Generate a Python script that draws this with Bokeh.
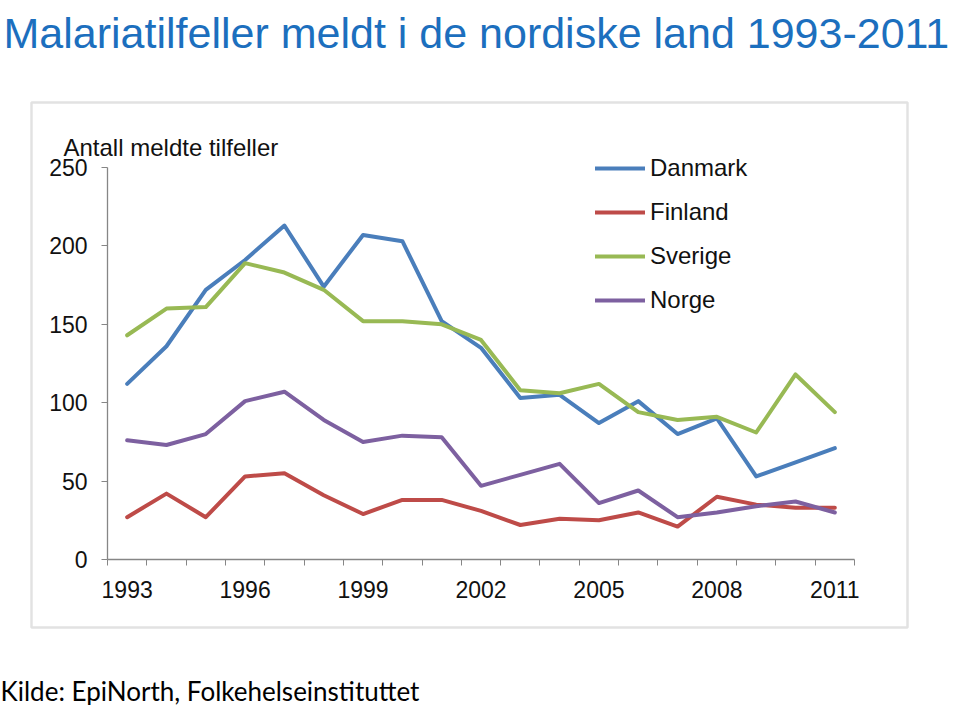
from bokeh.plotting import figure
from bokeh.models import Label, BoxAnnotation, Legend, LegendItem, FixedTicker, ColumnDataSource, Range1d
from bokeh.embed import file_html
from bokeh.resources import INLINE

years = list(range(1993, 2012))
label_years = [1993, 1996, 1999, 2002, 2005, 2008, 2011]
y_ticks = [0, 50, 100, 150, 200, 250]

danmark = [112, 136, 172, 191, 213, 174, 207, 203, 152, 135, 103, 105, 87, 101, 80, 90, 53, 62, 71]
finland = [27, 42, 27, 53, 55, 41, 29, 38, 38, 31, 22, 26, 25, 30, 21, 40, 35, 33, 33]
sverige = [143, 160, 161, 189, 183, 172, 152, 152, 150, 140, 108, 106, 112, 94, 89, 91, 81, 118, 94]
norge = [76, 73, 80, 101, 107, 89, 75, 79, 78, 47, 54, 61, 36, 44, 27, 30, 34, 37, 30]

series_names = ["Danmark", "Finland", "Sverige", "Norge"]
series_values = [danmark, finland, sverige, norge]
series_colors = ["#4A7EBB", "#BE4B48", "#98B954", "#7D60A0"]

title_text = "Malariatilfeller meldt i de nordiske land 1993-2011"
y_title = "Antall meldte tilfeller"
source_text = "Kilde: EpiNorth, Folkehelseinstituttet"

FONT = "Liberation Sans"

# page geometry (pixels): the frame fills the whole canvas, axes are pinned inside it
W, H = 960, 705
ax_left, ax_right, ax_top, ax_bottom = 107, 854, 167, 559
x0, x1 = years[0] - 0.5, years[-1] + 0.5
y0, y1 = 0, 250
kx = (ax_right - ax_left) / (x1 - x0)
ky = (ax_bottom - ax_top) / (y1 - y0)
xr = Range1d(x0 - ax_left / kx, x1 + (W - ax_right) / kx)
yr = Range1d(y0 - (H - ax_bottom) / ky, y1 + ax_top / ky)

p = figure(width=W, height=H, x_range=xr, y_range=yr,
           output_backend="svg", toolbar_location=None,
           min_border_left=0, min_border_right=0, min_border_top=0, min_border_bottom=0)
p.xgrid.visible = False
p.ygrid.visible = False
p.outline_line_color = None
p.background_fill_color = "white"
p.border_fill_color = "white"

boundaries = [y - 0.5 for y in years] + [years[-1] + 0.5]
p.xaxis.ticker = FixedTicker(ticks=label_years, minor_ticks=boundaries)
p.yaxis.ticker = FixedTicker(ticks=y_ticks, minor_ticks=[])
p.xaxis.fixed_location = y0
p.yaxis.fixed_location = x0
p.xaxis.bounds = (x0, x1)
p.yaxis.bounds = (y0, y1)
for ax in (p.xaxis, p.yaxis):
    ax.axis_line_color = "#868686"
    ax.axis_line_width = 1.3
    ax.major_tick_line_color = "#868686"
    ax.minor_tick_line_color = "#868686"
    ax.major_label_text_font = FONT
    ax.major_label_text_font_size = "23px"
    ax.major_label_text_color = "#111111"
    ax.major_tick_in = 0
    ax.minor_tick_in = 0
p.xaxis.major_tick_out = 0
p.xaxis.minor_tick_out = 6
p.xaxis.major_label_standoff = 15
p.yaxis.major_tick_out = 6
p.yaxis.minor_tick_out = 0
p.yaxis.major_label_standoff = 14

items = []
for name, vals, col in zip(series_names, series_values, series_colors):
    src = ColumnDataSource(dict(x=years, y=vals))
    r = p.line("x", "y", source=src, line_color=col, line_width=4, line_join="round", line_cap="round")
    items.append(LegendItem(label=name, renderers=[r]))

legend = Legend(items=items, location=(595, H - 314), orientation="vertical",
                glyph_width=50, glyph_height=28, label_height=28, spacing=16,
                label_standoff=5, padding=0, margin=0,
                label_text_font=FONT, label_text_font_size="24px", label_text_color="#111111",
                border_line_color=None, background_fill_alpha=0)
p.add_layout(legend, "center")

box = BoxAnnotation(left=31, right=907, top=H - 102, bottom=H - 627,
                    left_units="screen", right_units="screen", top_units="screen", bottom_units="screen",
                    fill_alpha=0, line_color="#a0a0a0", line_width=2.5, level="underlay")
p.add_layout(box)

p.add_layout(Label(x=3, y=H - 32, x_units="screen", y_units="screen", text=title_text,
                   text_font=FONT, text_font_size="43px", text_color="#1C6FBE",
                   text_baseline="alphabetic"))
p.add_layout(Label(x=63, y=H - 147, x_units="screen", y_units="screen", text=y_title,
                   text_font=FONT, text_font_size="24px", text_color="#111111",
                   text_baseline="alphabetic"))
p.add_layout(Label(x=0, y=H - 690, x_units="screen", y_units="screen", text=source_text,
                   text_font="Lato", text_font_size="26px", text_color="#000000",
                   text_baseline="alphabetic"))

open("out.html", "w").write(file_html(p, INLINE))
